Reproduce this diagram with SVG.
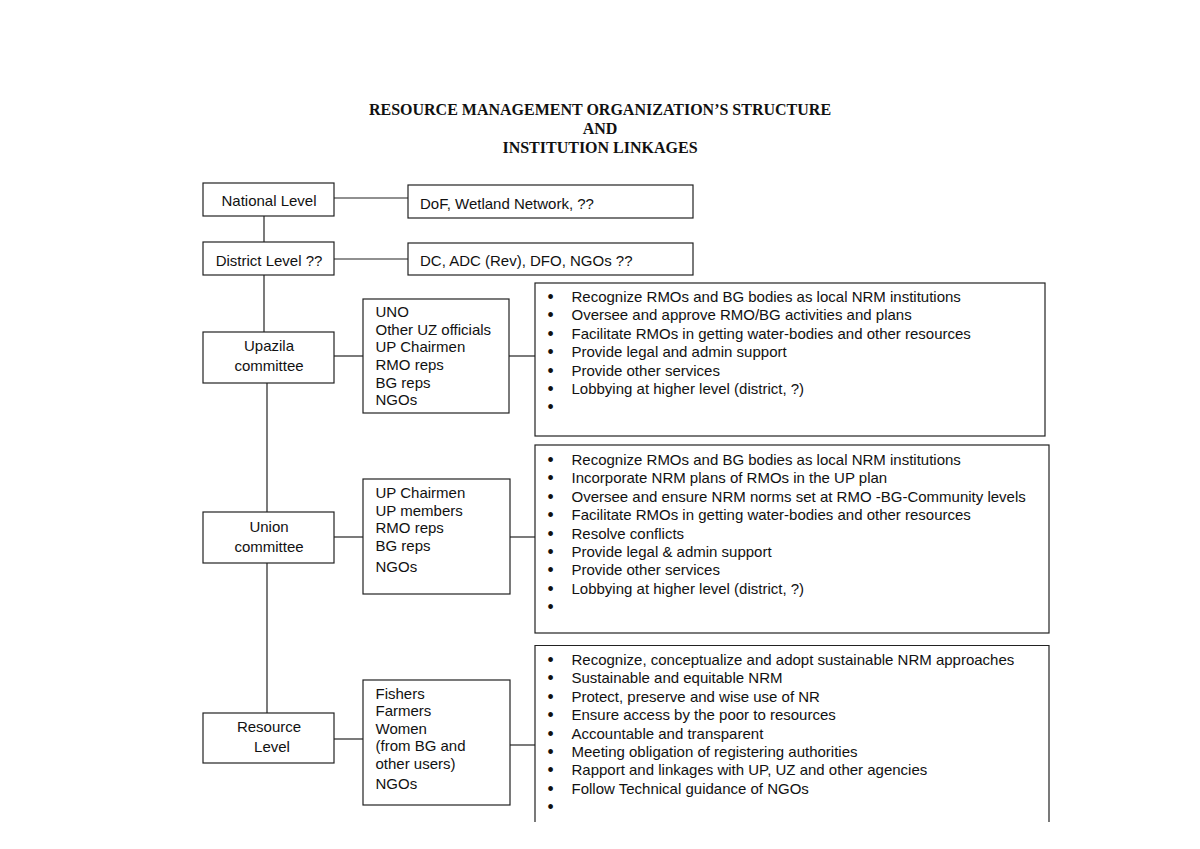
<svg xmlns="http://www.w3.org/2000/svg" width="1200" height="849" viewBox="0 0 1200 849">
<style>
.bx{fill:#fff;stroke:#222;stroke-width:1.2}
.ln{stroke:#222;stroke-width:1.2;fill:none}
.t{font-family:"Liberation Sans",Arial,sans-serif;font-size:15px;fill:#111}
.c{text-anchor:middle}
.ttl{font-family:"Liberation Serif","Times New Roman",serif;font-size:16px;font-weight:bold;fill:#111;text-anchor:middle}
.b{text-anchor:middle;font-size:17.5px}
</style>
<rect width="1200" height="849" fill="#fff"/>
<g id="title">
<text class="ttl" x="600" y="115">RESOURCE MANAGEMENT ORGANIZATION’S STRUCTURE</text>
<text class="ttl" x="600" y="134">AND</text>
<text class="ttl" x="600" y="153">INSTITUTION LINKAGES</text>
</g>
<g id="connectors">
<line class="ln" x1="264" y1="216" x2="264" y2="242"/>
<line class="ln" x1="264" y1="275" x2="264" y2="332"/>
<line class="ln" x1="267" y1="383" x2="267" y2="512"/>
<line class="ln" x1="267" y1="563" x2="267" y2="713"/>
<line class="ln" x1="334" y1="198" x2="408" y2="198"/>
<line class="ln" x1="334" y1="259" x2="408" y2="259"/>
<line class="ln" x1="334" y1="356" x2="363" y2="356"/>
<line class="ln" x1="509" y1="356" x2="535" y2="356"/>
<line class="ln" x1="334" y1="537" x2="363" y2="537"/>
<line class="ln" x1="510" y1="537" x2="535" y2="537"/>
<line class="ln" x1="334" y1="739" x2="363" y2="739"/>
<line class="ln" x1="510" y1="745" x2="535" y2="745"/>
</g>
<g id="national">
<rect class="bx" x="203" y="183" width="131" height="33"/>
<text class="t c" x="269" y="205.5">National Level</text>
</g>
<g id="national-members">
<rect class="bx" x="408" y="185" width="285" height="33"/>
<text class="t" x="420" y="208.5">DoF, Wetland Network, ??</text>
</g>
<g id="district">
<rect class="bx" x="203" y="242" width="131" height="33"/>
<text class="t c" x="269" y="265.5">District Level ??</text>
</g>
<g id="district-members">
<rect class="bx" x="408" y="243" width="285" height="32"/>
<text class="t" x="420" y="265.5">DC, ADC (Rev), DFO, NGOs ??</text>
</g>
<g id="upazila">
<rect class="bx" x="203" y="332" width="131" height="51"/>
<text class="t c" x="269" y="351">Upazila</text>
<text class="t c" x="269" y="371">committee</text>
</g>
<g id="upazila-members">
<rect class="bx" x="363" y="299" width="146" height="114"/>
<text class="t" x="375.5" y="317">UNO</text>
<text class="t" x="375.5" y="335">Other UZ officials</text>
<text class="t" x="375.5" y="352">UP Chairmen</text>
<text class="t" x="375.5" y="370">RMO reps</text>
<text class="t" x="375.5" y="387.5">BG reps</text>
<text class="t" x="375.5" y="405">NGOs</text>
</g>
<g id="upazila-roles">
<rect class="bx" x="535" y="283" width="510" height="153"/>
<g class="t">
<text class="b" x="550.5" y="303">•</text><text x="571.5" y="302">Recognize RMOs and BG bodies as local NRM institutions</text>
<text class="b" x="550.5" y="321.4">•</text><text x="571.5" y="320.4">Oversee and approve RMO/BG activities and plans</text>
<text class="b" x="550.5" y="339.8">•</text><text x="571.5" y="338.8">Facilitate RMOs in getting water-bodies and other resources</text>
<text class="b" x="550.5" y="358.2">•</text><text x="571.5" y="357.2">Provide legal and admin support</text>
<text class="b" x="550.5" y="376.6">•</text><text x="571.5" y="375.6">Provide other services</text>
<text class="b" x="550.5" y="395">•</text><text x="571.5" y="394">Lobbying at higher level (district, ?)</text>
<text class="b" x="550.5" y="413.4">•</text>
</g>
</g>
<g id="union">
<rect class="bx" x="203" y="512" width="131" height="51"/>
<text class="t c" x="269" y="532">Union</text>
<text class="t c" x="269" y="552">committee</text>
</g>
<g id="union-members">
<rect class="bx" x="363" y="479" width="147" height="115"/>
<text class="t" x="375.5" y="498">UP Chairmen</text>
<text class="t" x="375.5" y="515.5">UP members</text>
<text class="t" x="375.5" y="533">RMO reps</text>
<text class="t" x="375.5" y="550.5">BG reps</text>
<text class="t" x="375.5" y="572">NGOs</text>
</g>
<g id="union-roles">
<rect class="bx" x="535" y="445" width="514" height="188"/>
<g class="t">
<text class="b" x="550.5" y="466">•</text><text x="571.5" y="465">Recognize RMOs and BG bodies as local NRM institutions</text>
<text class="b" x="550.5" y="484.4">•</text><text x="571.5" y="483.4">Incorporate NRM plans of RMOs in the UP plan</text>
<text class="b" x="550.5" y="502.8">•</text><text x="571.5" y="501.8">Oversee and ensure NRM norms set at RMO -BG-Community levels</text>
<text class="b" x="550.5" y="521.2">•</text><text x="571.5" y="520.2">Facilitate RMOs in getting water-bodies and other resources</text>
<text class="b" x="550.5" y="539.6">•</text><text x="571.5" y="538.6">Resolve conflicts</text>
<text class="b" x="550.5" y="558">•</text><text x="571.5" y="557">Provide legal &amp; admin support</text>
<text class="b" x="550.5" y="576.4">•</text><text x="571.5" y="575.4">Provide other services</text>
<text class="b" x="550.5" y="594.8">•</text><text x="571.5" y="593.8">Lobbying at higher level (district, ?)</text>
<text class="b" x="550.5" y="613.2">•</text>
</g>
</g>
<g id="resource">
<rect class="bx" x="203" y="713" width="131" height="50"/>
<text class="t c" x="269" y="731.5">Resource</text>
<text class="t c" x="272" y="751.5">Level</text>
</g>
<g id="resource-members">
<rect class="bx" x="363" y="680" width="147" height="125"/>
<text class="t" x="375.5" y="698.5">Fishers</text>
<text class="t" x="375.5" y="715.5">Farmers</text>
<text class="t" x="375.5" y="733.5">Women</text>
<text class="t" x="375.5" y="751">(from BG and</text>
<text class="t" x="375.5" y="769">other users)</text>
<text class="t" x="375.5" y="788.5">NGOs</text>
</g>
<g id="resource-roles">
<path class="ln" d="M535 822 V645.5 H1049 V822" stroke="#555"/>
<g class="t">
<text class="b" x="550.5" y="666">•</text><text x="571.5" y="665">Recognize, conceptualize and adopt sustainable NRM approaches</text>
<text class="b" x="550.5" y="684.4">•</text><text x="571.5" y="683.4">Sustainable and equitable NRM</text>
<text class="b" x="550.5" y="702.8">•</text><text x="571.5" y="701.8">Protect, preserve and wise use of NR</text>
<text class="b" x="550.5" y="721.2">•</text><text x="571.5" y="720.2">Ensure access by the poor to resources</text>
<text class="b" x="550.5" y="739.6">•</text><text x="571.5" y="738.6">Accountable and transparent</text>
<text class="b" x="550.5" y="758">•</text><text x="571.5" y="757">Meeting obligation of registering authorities</text>
<text class="b" x="550.5" y="776.4">•</text><text x="571.5" y="775.4">Rapport and linkages with UP, UZ and other agencies</text>
<text class="b" x="550.5" y="794.8">•</text><text x="571.5" y="793.8">Follow Technical guidance of NGOs</text>
<text class="b" x="550.5" y="813.2">•</text>
</g>
</g>
</svg>
